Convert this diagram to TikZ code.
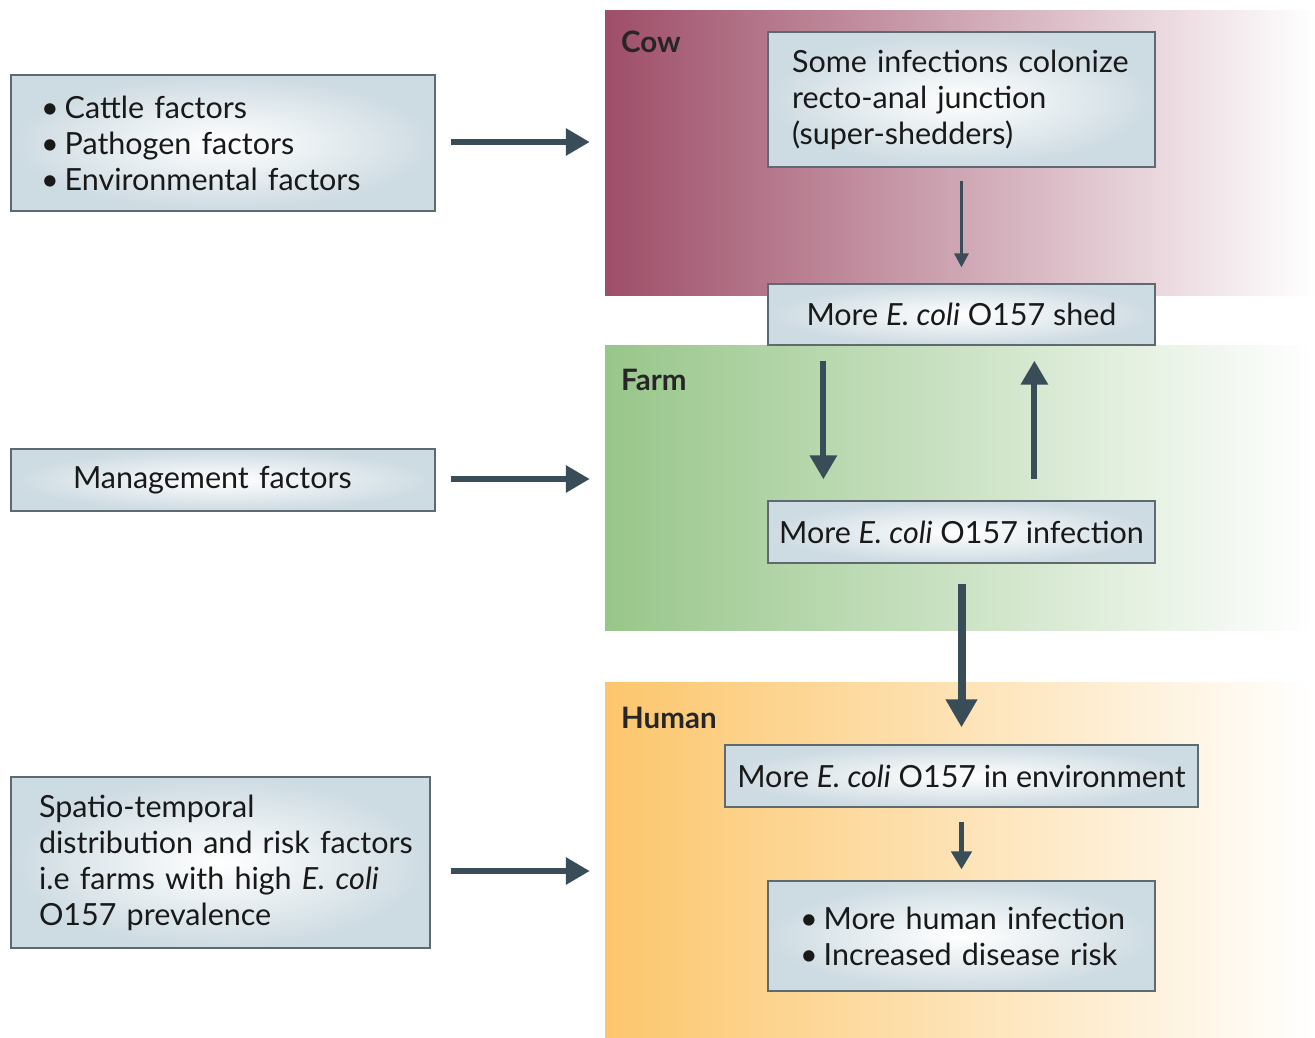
\documentclass[tikz,border=0pt]{standalone}
\usepackage{fontspec}
\setmainfont{Lato}
\usetikzlibrary{arrows.meta,fit,calc}
\definecolor{boxblue}{RGB}{205,219,226}
\definecolor{boxline}{RGB}{95,105,112}
\definecolor{arrowc}{RGB}{57,77,89}
\definecolor{cowc}{RGB}{158,78,104}
\definecolor{farmc}{RGB}{152,198,138}
\definecolor{humanc}{RGB}{252,198,108}
\newcommand{\bul}{\textbullet\kern6pt}
\tikzset{
  box/.style={draw=boxline, line width=1.2pt, inner color=white, outer color=boxblue,
    font=\fontsize{30.5}{36}\selectfont, inner sep=0pt, text=black!90},
  band/.style={inner sep=0pt, draw=none, right color=white},
  bandlabel/.style={font=\fontsize{29.5}{32}\selectfont\bfseries, text=black!85, anchor=west, inner sep=0pt},
  flow/.style={draw=arrowc, line width=#1},
  bigarrow/.style={flow=6pt, -{Triangle[length=24pt,width=26pt]}},
}
\begin{document}
\begin{tikzpicture}[x=1pt,y=-1pt]
\useasboundingbox (0,0) rectangle (1315,1037);
% bands
\node[band, left color=cowc, fit={(605,10)(1315,295)}] (cow) {};
\node[band, left color=farmc, fit={(605,345)(1315,630)}] (farm) {};
\node[band, left color=humanc, fit={(605,682)(1315,1037)}] (human) {};
\node[bandlabel] (cowlab) at (621,42) {Cow};
\node[bandlabel] (farmlab) at (621,380) {Farm};
\node[bandlabel] (humanlab) at (621,718) {Human};
% left boxes
\node[box, minimum width=424pt, minimum height=136pt, text width=364pt, inner xsep=30pt, align=left] (L1) at (223,143)
  {\mbox{\bul Cattle factors}\\ \mbox{\bul Pathogen factors}\\ \mbox{\bul Environmental factors}};
\node[box, minimum width=424pt, minimum height=62pt, text width=300pt, inner xsep=62pt, align=left] (L2) at (223,480) {\mbox{Management factors}};
\node[box, minimum width=419pt, minimum height=171pt, text width=363pt, inner xsep=28pt, align=left] (L3) at (220.5,862.5)
  {\mbox{Spatio-temporal}\\ \mbox{distribution and risk factors}\\ \mbox{i.e farms with high \textit{E. coli}}\\ \mbox{O157 prevalence}};
% right boxes
\node[box, minimum width=387pt, minimum height=135pt, text width=339pt, inner xsep=24pt, align=left] (C1) at (961.5,99.5)
  {\mbox{Some infections colonize}\\ \mbox{recto-anal junction}\\ \mbox{(super-shedders)}};
\node[box, minimum width=387pt, minimum height=61pt, align=center] (C2) at (961.5,314.5) {More \textit{E. coli} O157 shed};
\node[box, minimum width=387pt, minimum height=62pt, align=center] (F1) at (961.5,532) {More \textit{E. coli} O157 infection};
\node[box, minimum width=473pt, minimum height=62pt, align=center] (H1) at (961.5,776) {More \textit{E. coli} O157 in environment};
\node[box, minimum width=387pt, minimum height=110pt, text width=323pt, inner xsep=32pt, align=left] (H2) at (961.5,936)
  {\mbox{\bul More human infection}\\ \mbox{\bul Increased disease risk}};
% arrows from left boxes
\draw[bigarrow, shorten <=15pt, shorten >=15pt] (L1.east |- 0,142) -- (cow.west |- 0,142);
\draw[bigarrow, shorten <=15pt, shorten >=15pt] (L2.east |- 0,479) -- (farm.west |- 0,479);
\draw[bigarrow, shorten <=20pt, shorten >=15pt] (L3.east |- 0,871) -- (human.west |- 0,871);
% flow arrows
\draw[flow=3pt, -{Triangle[length=14pt,width=14pt]}, shorten <=13pt, shorten >=16pt] (C1.south) -- (C2.north);
\draw[bigarrow, shorten <=15pt, shorten >=21pt] ([xshift=56pt]C2.south west) -- ([xshift=56pt]F1.north west);
\draw[bigarrow, shorten <=21pt, shorten >=15pt] ([xshift=267pt]F1.north west) -- ([xshift=267pt]C2.south west);
\draw[flow=8pt, -{Triangle[length=28pt,width=30pt]}, shorten <=20pt, shorten >=17pt] (F1.south) -- (H1.north);
\draw[flow=5pt, -{Triangle[length=18pt,width=20pt]}, shorten <=14pt, shorten >=11pt] (H1.south) -- (H2.north);
\end{tikzpicture}
\end{document}
